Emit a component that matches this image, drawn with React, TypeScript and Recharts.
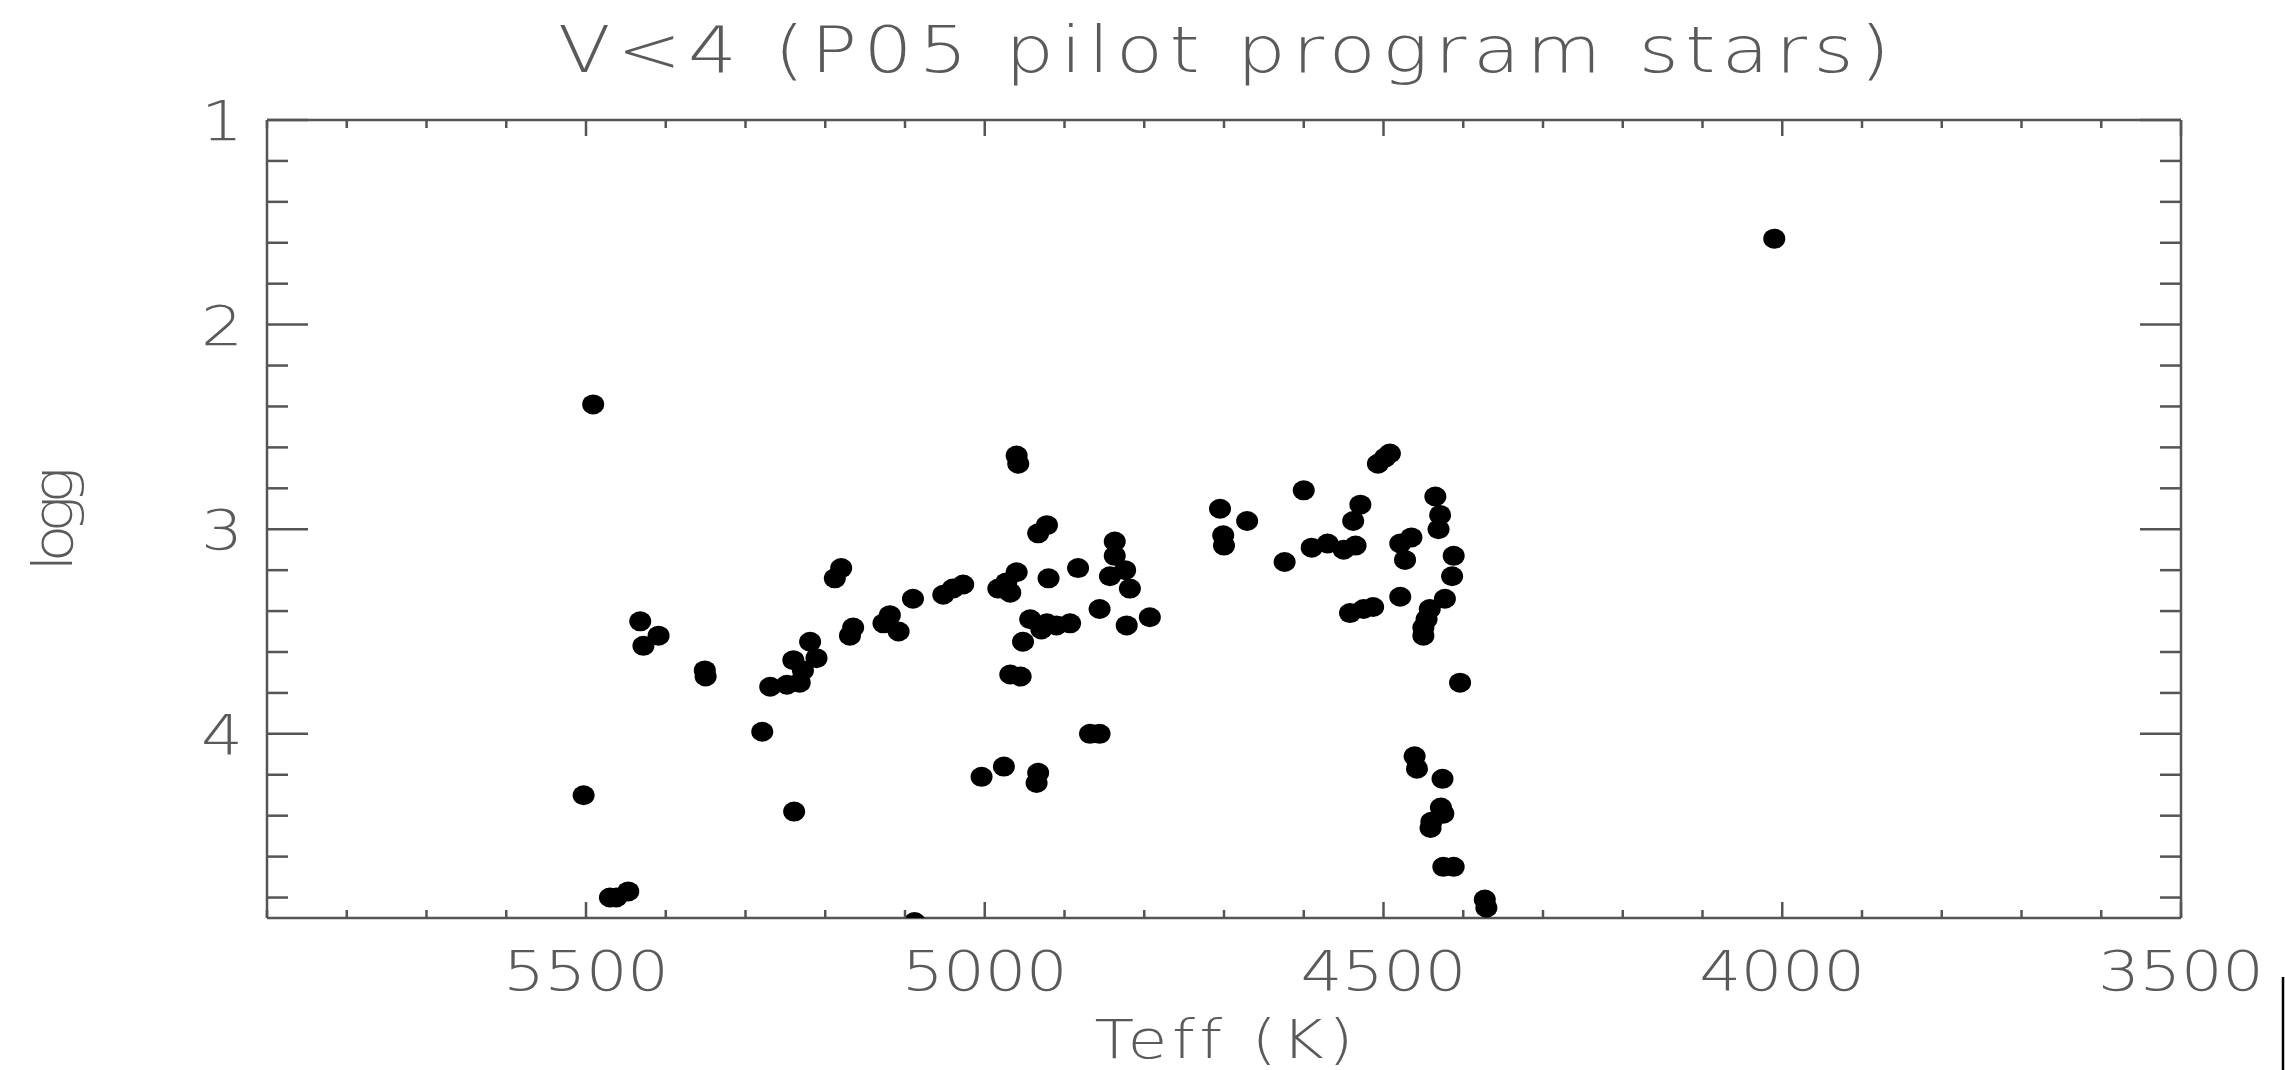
import React from 'react';
import { ScatterChart, Scatter, XAxis, YAxis } from 'recharts';

// ---- data ----
const teff = [
  5491, 5188, 5180, 5432, 5409, 5428, 5351, 5350, 5090, 5052, 5040, 5027,
  4983, 4973, 4960, 4968, 5119, 5127, 5108, 5165, 5169, 5219, 5211, 5240,
  5228, 5232, 5269, 5248,
  4960, 4958, 4922, 4933, 4837, 4837, 4824, 4843, 4818, 4883, 4920, 4943,
  4922, 4910, 4893, 4929, 4952, 4856, 4822, 4793, 4968, 4955, 4705, 4701,
  4700, 4671, 4600, 4624, 4590, 4570, 4550, 4535, 4529, 4538, 4492, 4498,
  4507, 4435, 4429, 4431, 4465, 4479, 4473, 4412, 4414, 4479, 4542, 4525,
  4513, 4423, 4442, 4446, 4450, 4450, 4404,
  5503, 5470, 5462, 5447, 5088, 5279, 5239, 5004, 4976,
  4868, 4856, 4933, 4935, 4461, 4458, 4426, 4428, 4425, 4441, 4440, 4425,
  4412, 4373, 4371,
  4010,
];
const logg = [
  2.39, 3.24, 3.19, 3.45, 3.52, 3.57, 3.69, 3.72, 3.34, 3.32, 3.29, 3.27,
  3.29, 3.26, 3.21, 3.31, 3.42, 3.46, 3.5, 3.48, 3.52, 3.55, 3.63, 3.64,
  3.69, 3.75, 3.77, 3.76,
  2.64, 2.68, 2.98, 3.02, 3.06, 3.13, 3.2, 3.23, 3.29, 3.19, 3.24, 3.44,
  3.46, 3.47, 3.46, 3.49, 3.55, 3.39, 3.47, 3.43, 3.71, 3.72, 2.9, 3.03,
  3.08, 2.96, 2.81, 3.16, 3.09, 3.07, 3.1, 3.08, 2.88, 2.96, 2.63, 2.65,
  2.68, 2.84, 2.93, 3.0, 3.04, 3.07, 3.15, 3.13, 3.23, 3.33, 3.41, 3.39,
  3.38, 3.34, 3.39, 3.44, 3.48, 3.52, 3.75,
  4.3, 4.8, 4.8, 4.77, 4.92, 3.99, 4.38, 4.21, 4.16,
  4.0, 4.0, 4.19, 4.24, 4.11, 4.17, 4.22, 4.36, 4.39, 4.46, 4.43, 4.65,
  4.65, 4.81, 4.85,
  1.58,
];

const xTicks = [5900, 5800, 5700, 5600, 5500, 5400, 5300, 5200, 5100, 5000, 4900, 4800,
  4700, 4600, 4500, 4400, 4300, 4200, 4100, 4000, 3900, 3800, 3700, 3600, 3500];
const xLabels = [5500, 5000, 4500, 4000, 3500];
const yTicks = [1, 1.2, 1.4, 1.6, 1.8, 2, 2.2, 2.4, 2.6, 2.8, 3, 3.2, 3.4, 3.6, 3.8,
  4, 4.2, 4.4, 4.6, 4.8];
const yLabels = [1, 2, 3, 4];
const xDomain = [3500, 5900];
const yDomain = [1, 4.9];

const titleText = 'V<4 (P05 pilot program stars)';
const xTitle = 'Teff (K)';
const yTitle = 'logg';

const points = teff.map((t, i) => ({ teff: t, logg: logg[i] }));

// ---- layout / style ----
const W = 2285;
const H = 1070;
// axes take 1px each (an axis of size 0 is not drawn)
const M = { top: 119, right: 103, bottom: 151, left: 266 };
const PLOT_CX = (267 + 2181) / 2;
const PLOT_CY = (120 + 918) / 2;
const AXIS = '#555';
const TEXT = '#5a5a5a';
const FONT = "'DejaVu Sans', 'Liberation Sans', sans-serif";
const TICK_FS = 55;
const WIDE = 1.2; // Hershey-like glyphs are wide
const NOLIG = { fontVariantLigatures: 'none' as const };

const isIn = (arr: number[], v: number) => arr.some((a) => Math.abs(a - v) < 1e-6);

const BottomTick = (p: any) => {
  const v = p.payload.value;
  const major = isIn(xLabels, v);
  const len = major ? 16 : 8;
  return (
    <g>
      <line x1={p.x} x2={p.x} y1={p.y} y2={p.y - len} stroke={AXIS} strokeWidth={2.5} />
      {major && (
        <text x={0} y={0} transform={`translate(${p.x},${p.y + 72}) scale(${WIDE},1)`}
          textAnchor="middle" fontFamily={FONT} fontWeight={200}
          fontSize={TICK_FS} fill={TEXT} textLength={166 / WIDE} lengthAdjust="spacing">
          {v}
        </text>
      )}
    </g>
  );
};

const TopTick = (p: any) => {
  const v = p.payload.value;
  const major = isIn(xLabels, v);
  const len = major ? 16 : 8;
  return <line x1={p.x} x2={p.x} y1={p.y} y2={p.y + len} stroke={AXIS} strokeWidth={2.5} />;
};

const LeftTick = (p: any) => {
  const v = p.payload.value;
  const major = isIn(yLabels, v);
  const len = major ? 41 : 21;
  return (
    <g>
      <line x1={p.x} x2={p.x + len} y1={p.y} y2={p.y} stroke={AXIS} strokeWidth={2.5} />
      {major && (
        <text x={0} y={0} transform={`translate(${p.x - 24},${p.y + 20}) scale(${WIDE},1)`}
          textAnchor="end" fontFamily={FONT} fontWeight={200}
          fontSize={TICK_FS} fill={TEXT}>
          {v}
        </text>
      )}
    </g>
  );
};

const RightTick = (p: any) => {
  const v = p.payload.value;
  const major = isIn(yLabels, v);
  const len = major ? 41 : 21;
  return <line x1={p.x} x2={p.x - len} y1={p.y} y2={p.y} stroke={AXIS} strokeWidth={2.5} />;
};

const Dot = (p: any) => <ellipse cx={p.cx} cy={p.cy} rx={11} ry={10} fill="#000" />;
const NoDot = () => <g />;

export default function App() {
  return (
    <div style={{ position: 'absolute', left: 0, top: 0, width: W, height: H, background: '#fff' }}>
      <ScatterChart width={W} height={H} margin={M}>
        <XAxis xAxisId="b" type="number" dataKey="teff" domain={xDomain} reversed
          orientation="bottom" height={1} ticks={xTicks} interval={0} tickSize={0} tickMargin={0}
          tick={BottomTick} axisLine={{ stroke: AXIS, strokeWidth: 2.5 }} allowDataOverflow />
        <XAxis xAxisId="t" type="number" dataKey="teff" domain={xDomain} reversed
          orientation="top" height={1} ticks={xTicks} interval={0} tickSize={0} tickMargin={0}
          tick={TopTick} axisLine={{ stroke: AXIS, strokeWidth: 2.5 }} allowDataOverflow />
        <YAxis yAxisId="l" type="number" dataKey="logg" domain={yDomain} reversed
          orientation="left" width={1} ticks={yTicks} interval={0} tickSize={0} tickMargin={0}
          tick={LeftTick} axisLine={{ stroke: AXIS, strokeWidth: 2.5 }} allowDataOverflow />
        <YAxis yAxisId="r" type="number" dataKey="logg" domain={yDomain} reversed
          orientation="right" width={1} ticks={yTicks} interval={0} tickSize={0} tickMargin={0}
          tick={RightTick} axisLine={{ stroke: AXIS, strokeWidth: 2.5 }} allowDataOverflow />
        <Scatter xAxisId="t" yAxisId="r" data={points} shape={NoDot} isAnimationActive={false} />
        <Scatter xAxisId="b" yAxisId="l" data={points} shape={Dot} isAnimationActive={false} />
      </ScatterChart>
      <svg width={W} height={H} style={{ position: 'absolute', left: 0, top: 0, pointerEvents: 'none' }}>
        <text x={0} y={0} transform={`translate(${PLOT_CX},72) scale(${WIDE},1)`}
          textAnchor="middle" fontFamily={FONT} fontWeight={200}
          fontSize={64} fill={TEXT} textLength={1332 / WIDE} lengthAdjust="spacing" style={NOLIG}>
          {titleText}
        </text>
        <text x={0} y={0} transform={`translate(${PLOT_CX},1058) scale(${WIDE},1)`}
          textAnchor="middle" fontFamily={FONT} fontWeight={200}
          fontSize={54} fill={TEXT} textLength={259 / WIDE} lengthAdjust="spacing" style={NOLIG}>
          {xTitle}
        </text>
        <text x={0} y={0} transform={`translate(72,${PLOT_CY}) rotate(-90) scale(1.1,1)`}
          textAnchor="middle" fontFamily={FONT} fontWeight={200} fontSize={56} fill={TEXT}
          textLength={105 / 1.1} lengthAdjust="spacing" style={NOLIG}>
          {yTitle}
        </text>
        <line x1={2283} x2={2283} y1={977} y2={H} stroke="#000" strokeWidth={2.5} />
      </svg>
    </div>
  );
}
